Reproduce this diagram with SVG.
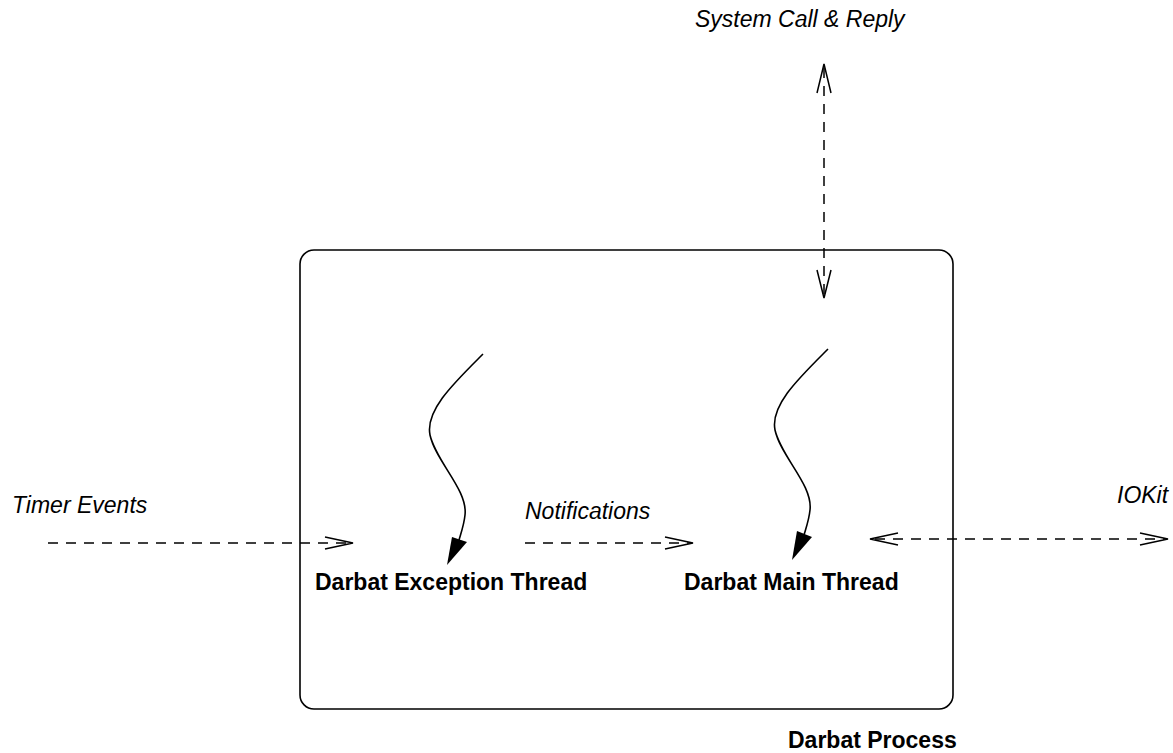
<svg xmlns="http://www.w3.org/2000/svg" width="1173" height="753" viewBox="0 0 1173 753">
<style>
.lbl{font-family:"Liberation Sans",Arial,sans-serif;font-size:23px;fill:#000}
.it{font-style:italic}
.b{font-weight:bold}
.dash{fill:none;stroke:#000;stroke-width:1.5;stroke-dasharray:10 8}
.head{fill:none;stroke:#000;stroke-width:1.5}
.thr{fill:none;stroke:#000;stroke-width:1.6}
</style>
<rect width="1173" height="753" fill="#fff"/>
<g id="process">
<rect x="300" y="250" width="653" height="459" rx="14" ry="14" fill="none" stroke="#000" stroke-width="1.6"/>
<text class="lbl b" x="788" y="748">Darbat Process</text>
</g>
<g id="exception-thread">
<path class="thr" d="M483,354 C455,382 425,410 430,435 C436,462 468,490 465,515 C464,525 461,533 459,540"/>
<polygon points="447,565 452,537 467,542" fill="#000"/>
<text class="lbl b" x="315" y="590">Darbat Exception Thread</text>
</g>
<g id="main-thread">
<path class="thr" d="M828,349 C800,377 770,405 775,430 C781,457 813,485 810,510 C809,520 806,528 804,535"/>
<polygon points="792,560 797,531 812,537" fill="#000"/>
<text class="lbl b" x="684" y="590">Darbat Main Thread</text>
</g>
<g id="labels">
<text class="lbl it" x="695" y="27">System Call &amp; Reply</text>
<text class="lbl it" x="12" y="513">Timer Events</text>
<text class="lbl it" x="525" y="519">Notifications</text>
<text class="lbl it" x="1117" y="503">IOKit</text>
</g>
<g id="connectors">
<line class="dash" x1="824" y1="68" x2="824" y2="294"/>
<polyline class="head" points="817,93 824,64 831,93"/>
<polyline class="head" points="817,270 824,298 831,270"/>
<line class="dash" x1="48" y1="543" x2="350" y2="543"/>
<polyline class="head" points="325,537 353,543 325,549"/>
<line class="dash" x1="525" y1="543" x2="690" y2="543"/>
<polyline class="head" points="665,537 693,543 665,549"/>
<line class="dash" x1="875" y1="539" x2="1165" y2="539"/>
<polyline class="head" points="898,533 870,539 898,545"/>
<polyline class="head" points="1140,533 1168,539 1140,545"/>
</g>
</svg>
